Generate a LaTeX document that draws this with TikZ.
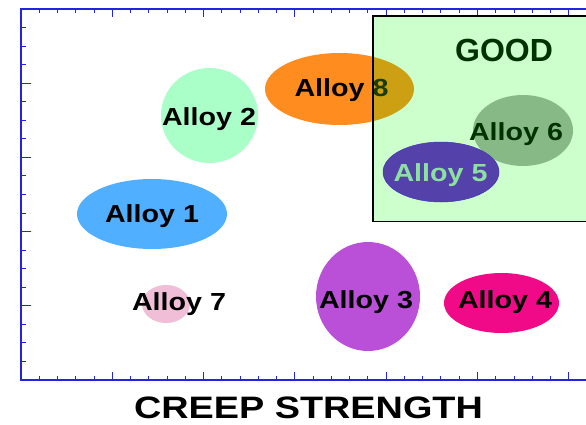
\documentclass[tikz,border=0pt]{standalone}
\usepackage{fontspec}
\setmainfont{Liberation Sans}
\newfontfamily\alloyfont[FakeStretch=1.16]{Liberation Sans}
\newfontfamily\axisfont[FakeStretch=1.22]{Liberation Sans}
\usetikzlibrary{shapes.geometric}
\definecolor{axisblue}{RGB}{35,35,225}
\definecolor{goodfill}{RGB}{204,255,204}
\definecolor{gooddark}{RGB}{0,50,0}
\definecolor{cA}{RGB}{80,175,255}
\definecolor{cB}{RGB}{170,255,200}
\definecolor{cC}{RGB}{185,80,215}
\definecolor{cD}{RGB}{240,10,135}
\definecolor{cE}{RGB}{85,65,170}
\definecolor{cEtext}{RGB}{140,225,160}
\definecolor{cF}{RGB}{135,185,135}
\definecolor{cG}{RGB}{240,190,215}
\definecolor{cH}{RGB}{255,140,30}
\definecolor{cHover}{RGB}{205,160,20}
\definecolor{cHtext}{RGB}{25,60,0}
\tikzset{
  blob/.style={ellipse, draw=none, inner sep=0pt},
  lab/.style={anchor=base, inner sep=0pt, font=\alloyfont\bfseries\fontsize{24.7}{26}\selectfont},
  axline/.style={draw=axisblue, line width=1.3pt},
  tick/.style={draw=axisblue, line width=1pt},
}
\begin{document}
\begin{tikzpicture}[x=1pt,y=-1pt]
\useasboundingbox (0,0) rectangle (586,425);
\clip (0,0) rectangle (586,425);
\fill[white] (0,0) rectangle (586,425);
% axes
\coordinate (tl) at (21,9);
\coordinate (bl) at (21,380);
\coordinate (tr) at (590,9);
\coordinate (br) at (590,380);
\foreach \k in {0,...,31} {
  \pgfmathsetmacro{\xx}{21+18.26*\k}
  \pgfmathtruncatemacro{\m}{mod(\k,5)}
  \ifnum\m=0
    \draw[tick] (\xx,9) -- ++(0,8);
    \draw[tick] (\xx,380) -- ++(0,-8);
  \else
    \draw[tick] (\xx,9) -- ++(0,4);
    \draw[tick] (\xx,380) -- ++(0,-4.5);
  \fi
}
\foreach \k in {1,...,19} {
  \pgfmathsetmacro{\yy}{9+18.55*\k}
  \pgfmathtruncatemacro{\m}{mod(\k,4)}
  \ifnum\m=0
    \draw[tick] (21,\yy) -- ++(10,0);
  \else
    \draw[tick] (21,\yy) -- ++(5,0);
  \fi
}
\draw[axline] (tr) -- (tl) -- (bl) -- (br);
% Alloy 8 and the GOOD region
\node[blob, fill=cH, minimum width=149pt, minimum height=72pt] (a8) at (339.5,89) {};
\node[lab] (t8) at (341.5,97) {Alloy 8};
\node[draw=none, fill=goodfill, minimum width=220pt, minimum height=205pt, anchor=north west, inner sep=0pt] (good) at (373,16) {};
\begin{scope}
  \clip (373,16) rectangle (600,221);
  \node[blob, fill=cHover, minimum width=149pt, minimum height=72pt] at (339.5,89) {};
  \node[lab, text=cHtext] at (341.5,97) {Alloy 8};
\end{scope}
\draw[black, line width=1.6pt] (good.south east) -- (good.south west) -- (good.north west) -- (good.north east);
\node[anchor=base, inner sep=0pt, text=gooddark, font=\bfseries\fontsize{32}{34}\selectfont] (goodt) at (504,62) {GOOD};
% other alloys
\node[blob, fill=cF, minimum width=100pt, minimum height=71pt] (a6) at (523,130.5) {};
\node[lab, text=gooddark] (t6) at (516,140) {Alloy 6};
\node[blob, fill=cE, draw=cE!80!blue, line width=0.5pt, minimum width=116pt, minimum height=60pt] (a5) at (441,172) {};
\node[lab, text=cEtext] (t5) at (440.5,181) {Alloy 5};
\node[blob, fill=cB, minimum width=97pt, minimum height=95pt] (a2) at (209.5,115.5) {};
\node[lab] (t2) at (209,126) {Alloy 2};
\node[blob, fill=cA, minimum width=150pt, minimum height=70pt] (a1) at (152,214) {};
\node[lab] (t1) at (152,222) {Alloy 1};
\node[blob, fill=cG, minimum width=48pt, minimum height=38pt] (a7) at (166,304) {};
\node[lab] (t7) at (179,310) {Alloy 7};
\node[blob, fill=cC, minimum width=104pt, minimum height=109pt] (a3) at (368,296.5) {};
\node[lab] (t3) at (366,308) {Alloy 3};
\node[blob, fill=cD, minimum width=115pt, minimum height=60pt] (a4) at (501.5,303) {};
\node[lab] (t4) at (505,308) {Alloy 4};
% axis title
\node[anchor=base, inner sep=0pt, font=\axisfont\bfseries\fontsize{31}{34}\selectfont] (xt) at (308.5,418.5) {CREEP STRENGTH};
\end{tikzpicture}
\end{document}
